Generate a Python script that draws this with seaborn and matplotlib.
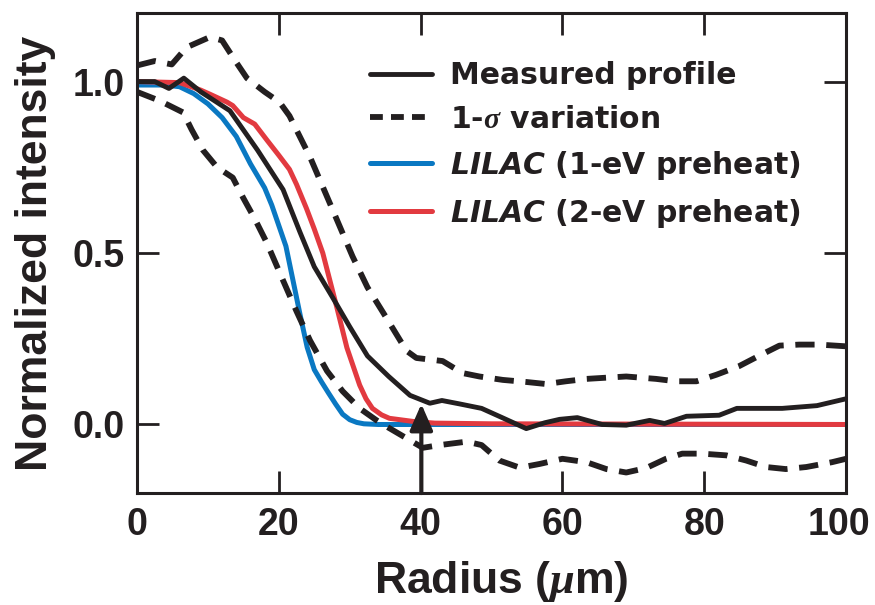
import matplotlib
matplotlib.use('Agg')
import matplotlib.pyplot as plt
import seaborn as sns
from matplotlib.lines import Line2D
from matplotlib.transforms import ScaledTranslation

# measured profile (black solid)
r_meas = [0, 2.5, 4.5, 6.6, 9, 13.1, 17, 20.6, 23, 25, 27.6, 30, 32.5, 35.5, 38.5,
          41.3, 43, 45.5, 48.6, 51.5, 54.9, 57.5, 59.6, 62.1, 65.6, 69, 72.3, 74.4,
          77.5, 82.1, 84.6, 91, 95.9, 100]
v_meas = [1.0, 1.0, 0.98, 1.01, 0.97, 0.915, 0.80, 0.685, 0.56, 0.46, 0.37, 0.285, 0.2,
          0.14, 0.085, 0.062, 0.07, 0.06, 0.047, 0.02, -0.012, 0.005, 0.015, 0.02, 0.0,
          -0.002, 0.012, 0.003, 0.024, 0.027, 0.047, 0.047, 0.055, 0.075]

# 1-sigma band (dashed)
r_up = [0, 2.5, 4.9, 7, 10.3, 12, 14, 15.5, 18, 20.1, 21.5, 24.4, 27.2, 30.4, 32.5, 35.2,
        38, 39.4, 43.1, 45.9, 48.3, 51.6, 54.9, 57.7, 60.5, 63.4, 69, 73.2, 76, 78.9,
        81.7, 84.9, 87.7, 90.6, 93.4, 96.2, 100]
v_up = [1.047, 1.06, 1.05, 1.10, 1.13, 1.12, 1.056, 1.01, 0.97, 0.94, 0.9, 0.78, 0.645,
        0.49, 0.40, 0.31, 0.215, 0.194, 0.185, 0.15, 0.14, 0.13, 0.124, 0.118, 0.126,
        0.133, 0.14, 0.133, 0.126, 0.126, 0.145, 0.17, 0.2, 0.23, 0.233, 0.233, 0.228]
r_lo = [0, 3.2, 6.5, 7.7, 9.3, 11.3, 13.5, 15, 16.6, 18.3, 20.6, 22.5, 24.4, 26.8, 29,
        31.4, 33.8, 35.2, 38, 40.3, 42.7, 46.5, 48.6, 51.1, 54, 56.8, 60, 63.4, 66.2,
        69, 71.8, 74.6, 76.9, 79.7, 83.1, 85.9, 88.7, 91.5, 94.4, 98, 100]
v_lo = [0.97, 0.944, 0.91, 0.86, 0.80, 0.75, 0.72, 0.66, 0.6, 0.53, 0.42, 0.33, 0.245,
        0.156, 0.097, 0.047, 0.012, -0.006, -0.04, -0.068, -0.06, -0.05, -0.06, -0.105,
        -0.126, -0.115, -0.1, -0.11, -0.13, -0.14, -0.127, -0.1, -0.085, -0.085, -0.09,
        -0.105, -0.124, -0.13, -0.124, -0.11, -0.1]

# LILAC 1-eV preheat (blue)
r_1ev = [0, 4, 6, 8, 10, 12, 14, 16, 18, 19, 20, 21, 22, 23, 24, 25, 26, 27, 28, 29,
         30, 31, 32, 34, 40, 100]
v_1ev = [0.99, 0.99, 0.985, 0.965, 0.935, 0.895, 0.84, 0.76, 0.69, 0.64, 0.58, 0.52,
         0.42, 0.32, 0.225, 0.16, 0.125, 0.092, 0.06, 0.03, 0.014, 0.006, 0.002, 0.0,
         0.0, 0.0]

# LILAC 2-eV preheat (red)
r_2ev = [0, 6, 9, 10.3, 12.7, 13.5, 15, 16.6, 18.3, 20, 21.5, 22.5, 23.9, 25, 26.2,
         27.2, 28.2, 29.6, 31.4, 32.3, 33.2, 34.5, 35.6, 38.9, 42, 50, 100]
v_2ev = [1.0, 0.997, 0.975, 0.963, 0.94, 0.93, 0.895, 0.876, 0.83, 0.785, 0.744, 0.70,
         0.63, 0.57, 0.5, 0.42, 0.34, 0.224, 0.115, 0.075, 0.047, 0.028, 0.018, 0.009,
         0.004, 0.002, 0.0]

arrow_r = 40.1
arrow_tip = 0.06

sns.set_style('ticks')
plt.rcParams['font.family'] = ['Liberation Sans', 'DejaVu Sans']
plt.rcParams['font.weight'] = 'bold'
plt.rcParams['mathtext.fontset'] = 'custom'
plt.rcParams['mathtext.it'] = 'Liberation Serif:italic'
plt.rcParams['mathtext.bfit'] = 'DejaVu Sans:bold:italic'
plt.rcParams['mathtext.rm'] = 'Liberation Sans:bold'

blk = '#231f20'
blue = '#0a78c2'
red = '#e23a40'
dash = (0, (3.3, 2.0))

fig = plt.figure(figsize=(8.75, 6.05), dpi=100)
ax = fig.add_axes([0.1566, 0.185, 0.8103, 0.7935])

sns.lineplot(x=r_1ev, y=v_1ev, ax=ax, color=blue, linewidth=3.6)
sns.lineplot(x=r_2ev, y=v_2ev, ax=ax, color=red, linewidth=3.6)
sns.lineplot(x=r_up, y=v_up, ax=ax, color=blk, linewidth=4.2, linestyle=dash)
sns.lineplot(x=r_lo, y=v_lo, ax=ax, color=blk, linewidth=4.2, linestyle=dash)
sns.lineplot(x=r_meas, y=v_meas, ax=ax, color=blk, linewidth=3.5)

ax.annotate('', xy=(arrow_r, arrow_tip), xytext=(arrow_r, -0.2),
            arrowprops=dict(arrowstyle='-|>,head_length=0.8,head_width=0.35',
                            color=blk, lw=3, shrinkA=0, shrinkB=0, mutation_scale=20))

ax.set_xlim(0, 100)
ax.set_ylim(-0.2, 1.2)
ax.set_xticks([0, 20, 40, 60, 80, 100])
ax.set_yticks([0.0, 0.5, 1.0])
ax.set_yticklabels(['0.0', '0.5', '1.0'])
ax.tick_params(direction='in', length=15.5, width=2.0, top=True, right=True,
               labelsize=27, color=blk, labelcolor=blk)
ax.tick_params(axis='x', pad=10)
ax.tick_params(axis='y', pad=9)
for s in ax.spines.values():
    s.set_linewidth(2.2)
    s.set_color(blk)

# last x label sits a little left so it stays inside the figure
last = ax.get_xticklabels()[-1]
last.set_transform(last.get_transform() + ScaledTranslation(-0.07, 0, fig.dpi_scale_trans))

ax.set_xlabel(r'Radius ($\mu$m)', fontsize=32, fontweight='bold', color=blk)
ax.xaxis.set_label_coords(0.513, -0.137)
ax.set_ylabel('Normalized intensity', fontsize=32, fontweight='bold', color=blk, labelpad=12)

handles = [
    Line2D([], [], color=blk, linewidth=3.5),
    Line2D([], [], color=blk, linewidth=4.2, linestyle=(0, (2.2, 1.4))),
    Line2D([], [], color=blue, linewidth=3.6),
    Line2D([], [], color=red, linewidth=3.6),
]
labels = ['Measured profile', r'1-$\sigma$ variation',
          r'$\mathbfit{LILAC}$ (1-eV preheat)', r'$\mathbfit{LILAC}$ (2-eV preheat)']
ax.legend(handles, labels, loc='upper left', bbox_to_anchor=(0.329, 0.90),
          frameon=False, borderpad=0, borderaxespad=0, handlelength=2.07,
          handletextpad=0.6, labelspacing=0.5,
          prop={'family': 'DejaVu Sans', 'size': 21.5, 'weight': 'bold'},
          labelcolor=blk)

fig.savefig('out.png', dpi=100)
